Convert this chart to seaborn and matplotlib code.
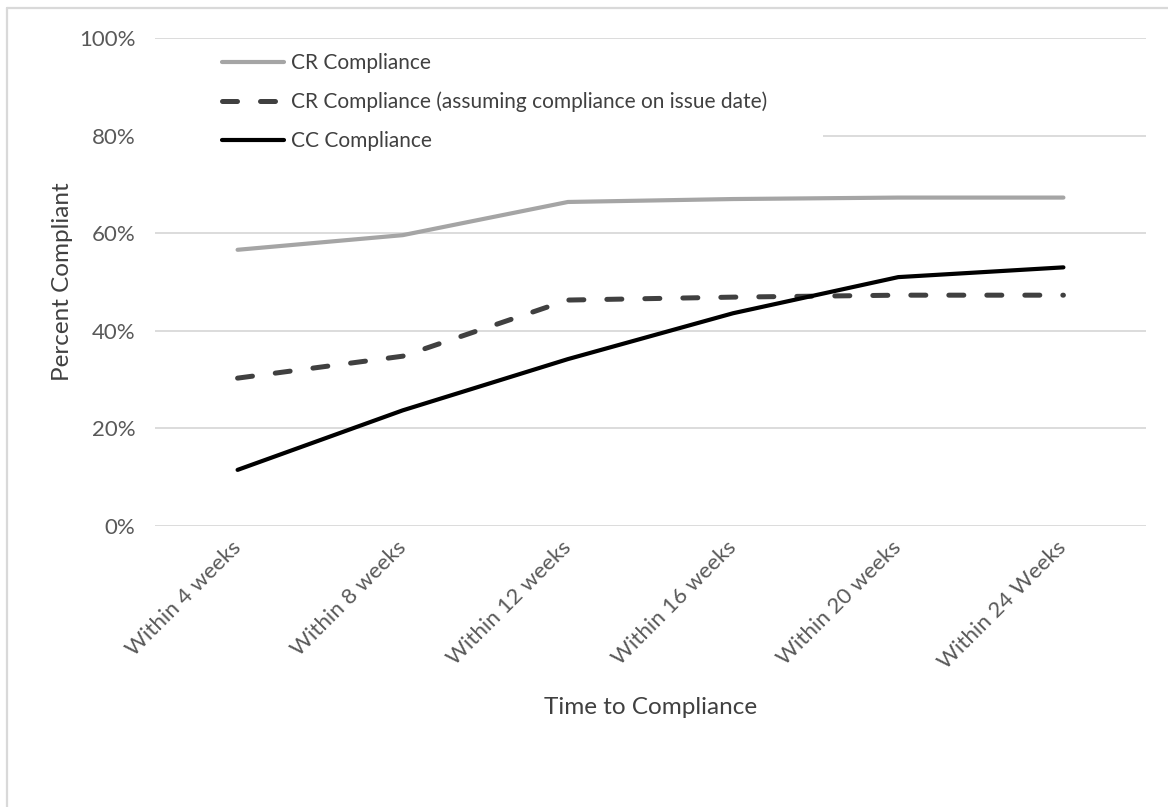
import matplotlib
matplotlib.use("Agg")
import matplotlib.pyplot as plt
from matplotlib.lines import Line2D
from matplotlib.patches import Rectangle
import seaborn as sns
import pandas as pd

# Categories and series (percent compliant)
weeks = ["Within 4 weeks", "Within 8 weeks", "Within 12 weeks",
         "Within 16 weeks", "Within 20 weeks", "Within 24 Weeks"]
cr_compliance = [56.6, 59.6, 66.4, 67.0, 67.3, 67.3]
cr_issue_date = [30.3, 34.8, 46.3, 46.9, 47.3, 47.3]
cc_compliance = [11.5, 23.7, 34.2, 43.6, 51.0, 53.0]
series_names = ["CR Compliance",
                "CR Compliance (assuming compliance on issue date)",
                "CC Compliance"]
y_ticks = [0, 20, 40, 60, 80, 100]
y_tick_labels = ["0%", "20%", "40%", "60%", "80%", "100%"]

sns.set_theme(style="white")
plt.rcParams["font.family"] = ["Lato", "DejaVu Sans"]

W, H = 1168, 807
fig = plt.figure(figsize=(W / 100, H / 100), dpi=100)
ax = fig.add_axes([155 / W, 1 - 526 / H, (1146 - 155) / W, (526 - 38) / H])

styles = [
    dict(color="#A5A5A5", lw=3.0, linestyle="-", solid_capstyle="round"),
    dict(color="#404040", lw=3.6, linestyle=(0, (3.0, 4.6)), dash_capstyle="round"),
    dict(color="#000000", lw=3.0, linestyle="-", solid_capstyle="round"),
]
for name, vals, st in zip(series_names, [cr_compliance, cr_issue_date, cc_compliance], styles):
    df = pd.DataFrame({"week": weeks, "pct": vals})
    sns.lineplot(data=df, x="week", y="pct", ax=ax, sort=False, label=name,
                 zorder=3, **st)

ax.set_xlim(-0.5, len(weeks) - 0.5)
ax.set_ylim(0, 100)
ax.set_yticks(y_ticks)
ax.set_yticklabels(y_tick_labels)
ax.grid(axis="y", color="#D9D9D9", lw=1.3)
ax.grid(axis="x", visible=False)
ax.set_axisbelow(True)
for s in ax.spines.values():
    s.set_visible(False)
ax.tick_params(axis="both", length=0, colors="#595959", labelsize=16)
ax.tick_params(axis="y", pad=14)
plt.setp(ax.get_xticklabels(), rotation=45, ha="right", va="center",
         rotation_mode="anchor")
ax.tick_params(axis="x", pad=13)

ax.set_xlabel("Time to Compliance", fontsize=17.5, color="#404040", labelpad=18)
ax.set_ylabel("Percent Compliant", fontsize=17.5, color="#404040", labelpad=4)

# white backdrop behind the legend area
ax.add_patch(Rectangle((0, 0.75), 0.674, 0.235, transform=ax.transAxes,
                       facecolor="white", edgecolor="none", zorder=1.5))

leg = ax.legend(loc="upper left", bbox_to_anchor=(0.0676, 0.969),
                frameon=False, fontsize=15.0, handlelength=3.0,
                handletextpad=0.3, labelspacing=0.9, borderaxespad=0,
                borderpad=0)
for t in leg.get_texts():
    t.set_color("#404040")

# outer chart border
fig.add_artist(Line2D([7 / W, 1], [1 - 8 / H, 1 - 8 / H], color="#D9D9D9", lw=1.6))
fig.add_artist(Line2D([7 / W, 7 / W], [0, 1 - 8 / H], color="#D9D9D9", lw=1.6))

fig.savefig("out.png", dpi=100)
